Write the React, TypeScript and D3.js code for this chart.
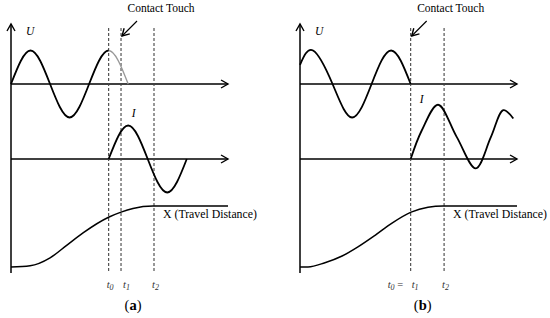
import React, { useEffect, useRef } from 'react';
import * as d3 from 'd3';

// both panels share a time axis that runs 0..100 along the arrows
// U(t): voltage, +-1 amplitude; I(t): current; X(t): travel 0..1

const uPanelA: [number, number][] = [[0, 0], [9, 1], [18, 0], [27, -1], [36, 0], [45, 1], [54, 0]];
const iPanelA: [number, number][] = [[45, 0], [54, 1], [63, 0], [72, -1], [81, 0]];
const xPanelA: [number, number][] = [[0, 0], [8.8, 0.02], [18, 0.15], [25.8, 0.36], [33.2, 0.56], [45.2, 0.82], [50.7, 0.9], [56.2, 0.96], [65.4, 1], [100, 1]];
const timesA = { t0: 45, t1: 50.7, t2: 65.9 };

const uPanelB: [number, number][] = [[0, 0.57], [6, 1], [15, 0], [24, -1], [33, 0], [42, 1], [51, 0]];
const iPanelB: [number, number][] = [[51, 0], [56.1, 0.85], [63.6, 1.62], [72.2, 0.66], [81, -0.28], [88, 0.66], [93.7, 1.46], [98.3, 1.21]];
const xPanelB: [number, number][] = [[0, 0], [3.7, 0], [11.5, 0.07], [19.4, 0.18], [26.7, 0.33], [34.6, 0.52], [42.4, 0.72], [51.2, 0.9], [59, 0.98], [65.9, 1], [100, 1]];
const timesB = { t0: 51, t1: 51, t2: 66.4 };

const serif = '"Liberation Serif", "DejaVu Serif", serif';

export default function App() {
  const svgRef = useRef<SVGSVGElement>(null);

  useEffect(() => {
    if (!svgRef.current) return;
    const svg = d3.select(svgRef.current);
    svg.selectAll('*').remove();

    const defs = svg.append('defs');
    defs.append('marker')
      .attr('id', 'head')
      .attr('viewBox', '-9 -6 11 12')
      .attr('markerWidth', 11)
      .attr('markerHeight', 12)
      .attr('markerUnits', 'userSpaceOnUse')
      .attr('refX', 0)
      .attr('refY', 0)
      .attr('orient', 'auto')
      .append('path')
      .attr('d', 'M-7,-4L0,0L-7,4')
      .attr('fill', 'none')
      .attr('stroke', '#000')
      .attr('stroke-width', 1.4);

    const yU = d3.scaleLinear().domain([-1, 1]).range([117.5, 50.5]);
    const yI = d3.scaleLinear().domain([-1, 1]).range([192.5, 125.5]);
    const yX = d3.scaleLinear().domain([0, 1]).range([267, 206]);
    const top = 24, bottom = 273, dashTop = 28;

    const drawPanel = (
      id: string,
      x: d3.ScaleLinear<number, number>,
      u: [number, number][],
      uCut: number,
      iData: [number, number][],
      iCurve: d3.CurveFactory,
      xd: [number, number][],
      times: { t0: number; t1: number; t2: number },
      letter: string,
      merged: boolean
    ) => {
      const g = svg.append('g');
      const x0 = x(0);
      const xEnd = x(100);

      // axes
      g.append('line').attr('x1', x0).attr('x2', x0).attr('y1', bottom).attr('y2', top)
        .attr('stroke', '#000').attr('stroke-width', 1.5).attr('marker-end', 'url(#head)');
      [yU(0), yI(0)].forEach((yy) => {
        g.append('line').attr('x1', x0).attr('x2', xEnd).attr('y1', yy).attr('y2', yy)
          .attr('stroke', '#000').attr('stroke-width', 1.5).attr('marker-end', 'url(#head)');
      });

      // dashed time markers
      const ts = merged ? [times.t0, times.t2] : [times.t0, times.t1, times.t2];
      ts.forEach((t) => {
        g.append('line').attr('x1', x(t)).attr('x2', x(t)).attr('y1', dashTop).attr('y2', bottom)
          .attr('stroke', '#444').attr('stroke-width', 1.1).attr('stroke-dasharray', '3,2');
      });

      const lineU = d3.line<[number, number]>().x((d) => x(d[0])).y((d) => yU(d[1])).curve(d3.curveNatural);
      const cutX = x(uCut);
      defs.append('clipPath').attr('id', `${id}-pre`).append('rect')
        .attr('x', 0).attr('y', 0).attr('width', cutX).attr('height', 318);
      defs.append('clipPath').attr('id', `${id}-post`).append('rect')
        .attr('x', cutX).attr('y', 0).attr('width', 550 - cutX).attr('height', 318);
      g.append('path').attr('d', lineU(u)).attr('fill', 'none').attr('stroke', '#999')
        .attr('stroke-width', 1.4).attr('clip-path', `url(#${id}-post)`);
      g.append('path').attr('d', lineU(u)).attr('fill', 'none').attr('stroke', '#000')
        .attr('stroke-width', 1.8).attr('clip-path', `url(#${id}-pre)`);

      const lineI = d3.line<[number, number]>().x((d) => x(d[0])).y((d) => yI(d[1])).curve(iCurve);
      g.append('path').attr('d', lineI(iData)).attr('fill', 'none').attr('stroke', '#000').attr('stroke-width', 1.8);

      const lineX = d3.line<[number, number]>().x((d) => x(d[0])).y((d) => yX(d[1])).curve(d3.curveMonotoneX);
      g.append('path').attr('d', lineX(xd)).attr('fill', 'none').attr('stroke', '#000').attr('stroke-width', 1.5);

      // labels
      g.append('text').attr('x', x0 + 15).attr('y', 35).attr('font-family', serif)
        .attr('font-style', 'italic').attr('font-size', 11.5).text('U');
      g.append('text').attr('x', merged ? x(times.t0) + 9 : x(times.t0) + 23).attr('y', merged ? 103 : 117)
        .attr('font-family', serif).attr('font-style', 'italic').attr('font-size', 11.5).text('I');

      g.append('text').attr('x', x(times.t1) + 40).attr('y', 12).attr('text-anchor', 'middle')
        .attr('font-family', serif).attr('font-size', 11.5).text('Contact Touch');
      g.append('line').attr('x1', x(times.t1) + 16).attr('y1', 21).attr('x2', x(times.t1) + 1).attr('y2', 36)
        .attr('stroke', '#000').attr('stroke-width', 1.1).attr('marker-end', 'url(#head)');

      g.append('text').attr('x', x(times.t2) + 9).attr('y', 218).attr('font-family', serif)
        .attr('font-size', 11.8).text('X (Travel Distance)');

      const tLabel = (cx: number, digit: string, suffix = '') => {
        const t = g.append('text').attr('x', cx).attr('y', 288).attr('font-family', serif)
          .attr('font-style', 'italic').attr('font-size', 10.5).attr('fill', '#333');
        t.append('tspan').text('t');
        t.append('tspan').attr('dy', 2).attr('font-size', 8).text(digit);
        if (suffix) t.append('tspan').attr('dy', -2).attr('font-style', 'normal').text(suffix);
      };
      if (merged) {
        tLabel(x(times.t0) - 23, '0', ' =');
        tLabel(x(times.t1) + 1, '1');
      } else {
        tLabel(x(times.t0) - 2, '0');
        tLabel(x(times.t1) + 2, '1');
      }
      tLabel(x(times.t2) - 2, '2');

      const cap = g.append('text').attr('x', x(times.t1) + 12).attr('y', 310)
        .attr('text-anchor', 'middle').attr('font-family', serif).attr('font-size', 14.5);
      cap.append('tspan').text('(');
      cap.append('tspan').attr('font-weight', 'bold').text(letter);
      cap.append('tspan').text(')');
    };

    const xA = d3.scaleLinear().domain([0, 100]).range([11, 228]);
    const xB = d3.scaleLinear().domain([0, 100]).range([300, 517]);

    drawPanel('a', xA, uPanelA, timesA.t0, iPanelA, d3.curveNatural, xPanelA, timesA, 'a', false);
    drawPanel('b', xB, uPanelB, 100, iPanelB, d3.curveCatmullRom, xPanelB, timesB, 'b', true);
  }, []);

  return (
    <svg
      ref={svgRef}
      width={550}
      height={318}
      style={{ position: 'absolute', left: 0, top: 0, background: '#fff' }}
    />
  );
}
